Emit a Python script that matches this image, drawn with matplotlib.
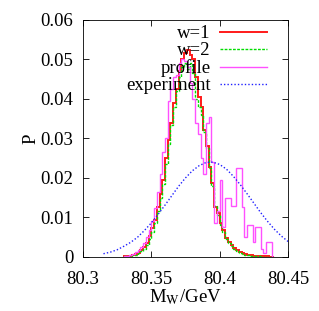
import numpy as np
import matplotlib
matplotlib.use("Agg")
import matplotlib.pyplot as plt

# histogram bins (GeV)
bin_start = 80.330
bin_width = 0.002

# w=1
p_w1 = [0.0001, 0.0002, 0.0003, 0.0005, 0.0007, 0.0011, 0.0017, 0.0026, 0.0036, 0.0052,
        0.0072, 0.0094, 0.0127, 0.0158, 0.0195, 0.0250, 0.0296, 0.0340, 0.0390, 0.0425,
        0.0470, 0.0500, 0.0515, 0.0525, 0.0510, 0.0500, 0.0456, 0.0405, 0.0380, 0.0320,
        0.0280, 0.0228, 0.0187, 0.0127, 0.0110, 0.0086, 0.0068, 0.0048, 0.0038, 0.0030,
        0.0022, 0.0017, 0.0012, 0.0010, 0.0008, 0.0006, 0.0004, 0.0003, 0.0003, 0.0002,
        0.0002, 0.0001, 0.0001, 0.0, 0.0]

# w=2
p_w2 = [0.0001, 0.0001, 0.0002, 0.0004, 0.0006, 0.0009, 0.0014, 0.0021, 0.0031, 0.0045,
        0.0062, 0.0085, 0.0115, 0.0150, 0.0185, 0.0235, 0.0285, 0.0335, 0.0380, 0.0420,
        0.0455, 0.0480, 0.0490, 0.0475, 0.0490, 0.0465, 0.0400, 0.0380, 0.0360, 0.0315,
        0.0275, 0.0225, 0.0180, 0.0130, 0.0105, 0.0080, 0.0062, 0.0045, 0.0035, 0.0027,
        0.0020, 0.0014, 0.0010, 0.0008, 0.0006, 0.0004, 0.0003, 0.0002, 0.0002, 0.0001,
        0.0, 0.0, 0.0, 0.0, 0.0]

# profile
p_prof = [0.0002, 0.0003, 0.0005, 0.0008, 0.0012, 0.0018, 0.0025, 0.0035, 0.0050, 0.0068,
          0.0092, 0.0125, 0.0165, 0.0210, 0.0265, 0.0300, 0.0395, 0.0425, 0.0455, 0.0460,
          0.0490, 0.0500, 0.0495, 0.0480, 0.0440, 0.0400, 0.0340, 0.0310, 0.0250, 0.0210,
          0.0340, 0.0355, 0.0240, 0.0086, 0.0115, 0.0195, 0.0076, 0.0150, 0.0150, 0.0130,
          0.0130, 0.0225, 0.0225, 0.0127, 0.0050, 0.0080, 0.0080, 0.0038, 0.0076, 0.0076,
          0.0020, 0.0010, 0.0038, 0.0038, 0.0]

# experiment
m_exp = [80.315, 80.32, 80.325, 80.33, 80.335, 80.34, 80.345, 80.35, 80.355, 80.36,
         80.365, 80.37, 80.375, 80.38, 80.385, 80.39, 80.395, 80.40, 80.405, 80.41,
         80.415, 80.42, 80.425, 80.43, 80.435, 80.44, 80.445, 80.45]
p_exp = [0.0008, 0.0012, 0.0018, 0.0027, 0.0037, 0.0050, 0.0067, 0.0086, 0.0108, 0.0131,
         0.0155, 0.0179, 0.0200, 0.0218, 0.0231, 0.0239, 0.0240, 0.0234, 0.0222, 0.0204,
         0.0183, 0.0160, 0.0136, 0.0112, 0.0090, 0.0070, 0.0053, 0.0039]

edges = bin_start + bin_width * np.arange(len(p_w1) + 1)

plt.rcParams['font.family'] = ['Liberation Serif', 'DejaVu Serif']
plt.rcParams['mathtext.fontset'] = 'stix'

fig = plt.figure(figsize=(3.19, 3.11), dpi=100)
ax = fig.add_axes([0.260, 0.174, 0.643, 0.762])

ax.stairs(p_w1, edges, color='#ff1a1a', lw=1.4, label='w=1')
ax.stairs(p_w2, edges, color='#00dd00', lw=1.0, ls=(0, (2, 1)), label='w=2')
ax.stairs(p_prof, edges, color='#ff50ff', lw=1.0, label='profile')
ax.plot(m_exp, p_exp, color='#2020ff', lw=1.0, ls=(0, (1, 1.5)), label='experiment')

ax.set_xlim(80.3, 80.45)
ax.set_ylim(0, 0.06)
ax.set_xticks([80.3, 80.35, 80.4, 80.45])
ax.set_xticklabels(['80.3', '80.35', '80.4', '80.45'])
ax.set_yticks([0, 0.01, 0.02, 0.03, 0.04, 0.05, 0.06])
ax.set_yticklabels(['0', '0.01', '0.02', '0.03', '0.04', '0.05', '0.06'])
ax.tick_params(direction='in', top=True, right=True, labelsize=13.5, length=4, width=0.6)
ax.tick_params(axis='x', pad=10)
ax.tick_params(axis='y', pad=7)
for s in ax.spines.values():
    s.set_linewidth(0.6)

ax.set_xlabel(r'M$_\mathrm{W}$/GeV', fontsize=13.5, labelpad=0)
ax.set_ylabel('P', fontsize=13.5, labelpad=1)

ax.legend(loc='upper right', frameon=False, markerfirst=False, fontsize=13.5,
          handlelength=2.5, handletextpad=0.5, labelspacing=0.0,
          borderaxespad=0.0, bbox_to_anchor=(0.935, 1.01))

fig.savefig('out.png', dpi=100)
